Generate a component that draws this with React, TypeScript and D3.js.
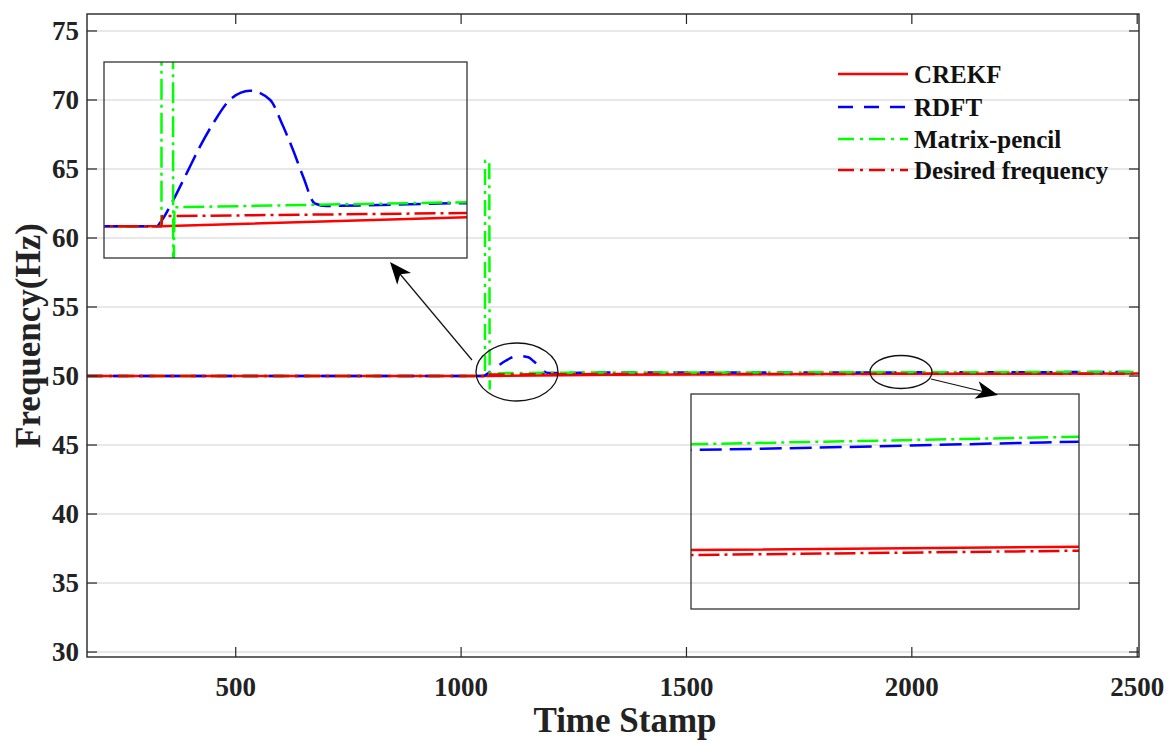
import React from 'react';
import * as d3 from 'd3';

const W = 1169;
const H = 743;

// ---- tick labels ----
const yTicks = [30, 35, 40, 45, 50, 55, 60, 65, 70, 75];
const xTicks = [500, 1000, 1500, 2000, 2500];

// ---- series (time stamp, frequency Hz) ----
const crekf: [number, number][] = [
  [170, 50], [1052, 50], [1324, 50.097], [1900, 50.159], [2050, 50.1623], [2504, 50.175],
];
const rdft: [number, number][] = [
  [170, 50], [1049, 50], [1051.6, 50.035], [1063.4, 50.28], [1075.3, 50.567], [1087.1, 50.853],
  [1098.9, 51.104], [1113.7, 51.355], [1131.4, 51.452], [1149.2, 51.355], [1161, 51.068],
  [1169.7, 50.817], [1178.7, 50.53], [1189, 50.244], [1199.3, 50.218], [1324, 50.247],
  [1900, 50.259], [2050, 50.2673], [2504, 50.29],
];
const matrixPencil: [number, number][] = [
  [170, 50], [1053, 50], [1053.1, 65.6], [1062.5, 65.6], [1063.4, 49.1], [1064.5, 50.204],
  [1324, 50.258], [1900, 50.2647], [2050, 50.2723], [2504, 50.3],
];
const desired: [number, number][] = [
  [170, 50], [1053, 50], [1053.5, 50.108], [1324, 50.142], [1900, 50.154], [2050, 50.1583], [2504, 50.17],
];

const seriesNames = ['CREKF', 'RDFT', 'Matrix-pencil', 'Desired frequency'];
const seriesData = [crekf, rdft, matrixPencil, desired];
const seriesColors = ['#ff0000', '#0000ff', '#00ff00', '#ee0000'];
const seriesDash = ['none', '15,11', '16,6,3,6', '16,6,3,6'];
const insetDash = ['none', '22,8', '21,5,3,5', '21,5,3,5'];
const seriesSmooth = [false, true, false, false];

// domains
const mainX: [number, number] = [170, 2504];
const mainY: [number, number] = [29.64, 76.23];
const inset1X: [number, number] = [1002, 1324];
const inset1Y: [number, number] = [49.66, 51.76];
const inset2X: [number, number] = [1900, 2050];
const inset2Y: [number, number] = [50.1, 50.315];

const FONT = '"Liberation Serif", "Times New Roman", serif';
const AXC = '#262626';

function arrowHead(x1: number, y1: number, x2: number, y2: number, len = 22, hw = 9, notch = 6) {
  const dx = x2 - x1, dy = y2 - y1;
  const L = Math.hypot(dx, dy);
  const ux = dx / L, uy = dy / L;
  const px = -uy, py = ux;
  const bx = x2 - ux * len, by = y2 - uy * len;
  const nx = x2 - ux * (len - notch), ny = y2 - uy * (len - notch);
  return `M${x2},${y2}L${bx + px * hw},${by + py * hw}L${nx},${ny}L${bx - px * hw},${by - py * hw}Z`;
}

function makeLine(xs: any, ys: any, smooth: boolean) {
  const l = d3.line<[number, number]>().x(d => xs(d[0])).y(d => ys(d[1]));
  if (smooth) l.curve(d3.curveMonotoneX);
  return l;
}

function Panel({ id, x0, x1, y0, y1, xd, yd, lw }: any) {
  const xs = d3.scaleLinear().domain(xd).range([x0, x1]);
  const ys = d3.scaleLinear().domain(yd).range([y1, y0]);
  return (
    <g>
      <defs>
        <clipPath id={id}>
          <rect x={x0} y={y0} width={x1 - x0} height={y1 - y0} />
        </clipPath>
      </defs>
      <g clipPath={`url(#${id})`}>
        {seriesData.map((s, i) => (
          <path key={i} d={makeLine(xs, ys, seriesSmooth[i])(s) || ''} fill="none" stroke={seriesColors[i]}
            strokeWidth={lw} strokeDasharray={insetDash[i]} strokeLinejoin="round" />
        ))}
      </g>
      <rect x={x0} y={y0} width={x1 - x0} height={y1 - y0} fill="none" stroke="#333" strokeWidth={1.3} />
    </g>
  );
}

export default function App() {
  const L = 87, R = 1139, T = 14, B = 657;
  const x = d3.scaleLinear().domain(mainX).range([L, R]);
  const y = d3.scaleLinear().domain(mainY).range([B, T]);
  const tickLen = 10;

  const legendY = [74, 107, 139, 170];

  return (
    <svg width={W} height={H} style={{ position: 'absolute', left: 0, top: 0, background: '#fff' }}
      fontFamily={FONT}>
      <rect x={0} y={0} width={W} height={H} fill="#fff" />
      {/* grid */}
      {yTicks.map(t => (
        <line key={'g' + t} x1={L} x2={R} y1={y(t)} y2={y(t)} stroke="#e0e0e0" strokeWidth={1.6} />
      ))}
      {/* main data */}
      <defs>
        <clipPath id="mainclip"><rect x={L} y={T} width={R - L} height={B - T} /></clipPath>
      </defs>
      <g clipPath="url(#mainclip)">
        {seriesData.map((s, i) => (
          <path key={i} d={makeLine(x, y, seriesSmooth[i])(s) || ''} fill="none" stroke={seriesColors[i]}
            strokeWidth={2.5} strokeDasharray={seriesDash[i]} strokeLinejoin="round" />
        ))}
      </g>
      {/* ticks */}
      {yTicks.map(t => (
        <g key={'yt' + t}>
          <line x1={L} x2={L + tickLen} y1={y(t)} y2={y(t)} stroke={AXC} strokeWidth={1.2} />
          <line x1={R} x2={R - tickLen} y1={y(t)} y2={y(t)} stroke={AXC} strokeWidth={1.2} />
          <text x={L - 8} y={y(t)} textAnchor="end" dominantBaseline="central" fontSize={27}
            fontWeight="bold" fill="#222">{t}</text>
        </g>
      ))}
      {xTicks.map(t => (
        <g key={'xt' + t}>
          <line x1={x(t)} x2={x(t)} y1={B} y2={B - tickLen} stroke={AXC} strokeWidth={1.2} />
          <line x1={x(t)} x2={x(t)} y1={T} y2={T + tickLen} stroke={AXC} strokeWidth={1.2} />
          <text x={x(t)} y={687} textAnchor="middle" dominantBaseline="central" fontSize={27}
            fontWeight="bold" fill="#222">{t}</text>
        </g>
      ))}
      <rect x={L} y={T} width={R - L} height={B - T} fill="none" stroke={AXC} strokeWidth={1.4} />
      {/* axis titles */}
      <text x={625} y={720} textAnchor="middle" dominantBaseline="central" fontSize={35}
        fontWeight="bold" fill="#222">Time Stamp</text>
      <text transform={`translate(28,${(T + B) / 2}) rotate(-90)`} textAnchor="middle"
        dominantBaseline="central" fontSize={35} fontWeight="bold" fill="#222">Frequency(Hz)</text>

      {/* insets */}
      <Panel id="in1" x0={104} x1={467} y0={62} y1={258} xd={inset1X} yd={inset1Y} lw={2.5} />
      <Panel id="in2" x0={691} x1={1079} y0={394} y1={609} xd={inset2X} yd={inset2Y} lw={2.5} />

      {/* ellipses */}
      <ellipse cx={517} cy={372} rx={41} ry={29} fill="none" stroke="#111" strokeWidth={1.3} />
      <ellipse cx={901} cy={372} rx={31} ry={16.5} fill="none" stroke="#111" strokeWidth={1.3} />

      {/* arrows */}
      <line x1={472} y1={360} x2={400} y2={274} stroke="#111" strokeWidth={1.2} />
      <path d={arrowHead(472, 360, 390, 262)} fill="#000" />
      <line x1={931} y1={379} x2={985} y2={392} stroke="#111" strokeWidth={1.2} />
      <path d={arrowHead(931, 379, 998, 395)} fill="#000" />

      {/* legend */}
      {seriesNames.map((n, i) => (
        <g key={n}>
          <line x1={838} x2={908} y1={legendY[i]} y2={legendY[i]} stroke={seriesColors[i]} strokeWidth={2.5}
            strokeDasharray={seriesDash[i]} />
          <text x={914} y={legendY[i]} dominantBaseline="central" fontSize={25} fontWeight="bold"
            fill="#111">{n}</text>
        </g>
      ))}
    </svg>
  );
}
